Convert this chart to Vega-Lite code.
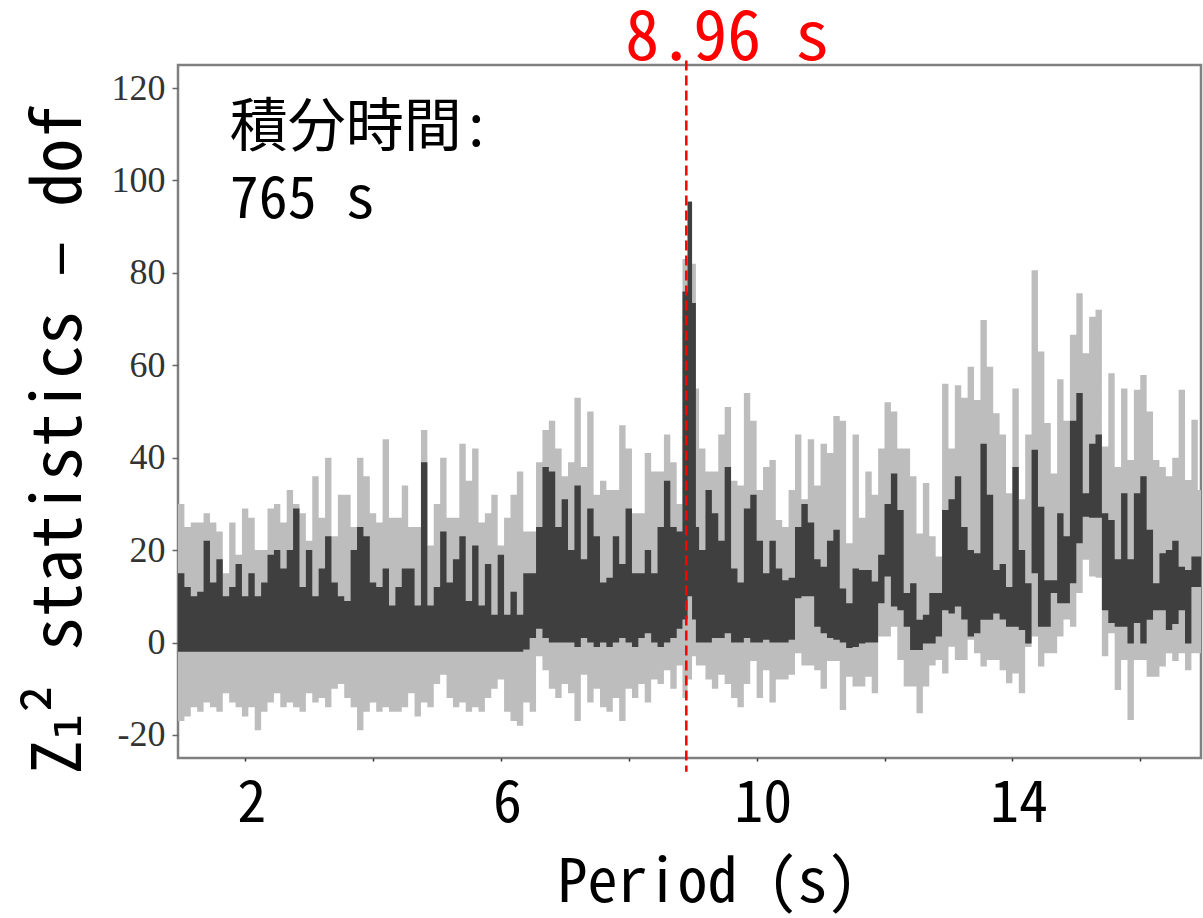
{
  "$schema": "https://vega.github.io/schema/vega-lite/v6.json",
  "width": 1023,
  "height": 693,
  "autosize": {"type": "none"},
  "padding": {"left": 178, "top": 65, "right": 2, "bottom": 160},
  "background": "white",
  "config": {
    "view": {"stroke": "#808080", "strokeWidth": 2.5},
    "axis": {"domain": false, "grid": false},
    "axisX": {
      "tickSize": 3, "tickColor": "#333333", "tickWidth": 1.5,
      "labelFont": "Noto Sans Mono CJK JP, Noto Sans CJK JP", "labelFontSize": 58, "labelColor": "#000000",
      "labelPadding": 14, "labelOffset": 6, "labelFlush": false,
      "titleFont": "Noto Sans Mono CJK JP, Noto Sans CJK JP", "titleFontSize": 60, "titleFontWeight": "normal", "titleColor": "#000000",
      "titleX": 529, "titleY": 143, "titleBaseline": "alphabetic", "titleAlign": "center"
    },
    "axisY": {
      "tickSize": 6, "tickColor": "#666666", "tickWidth": 1.5,
      "labelFont": "Liberation Serif", "labelFontSize": 36, "labelColor": "#333333", "labelPadding": 7,
      "titleFont": "Noto Sans Mono CJK JP, Noto Sans CJK JP, DejaVu Sans", "titleFontSize": 68, "titleFontWeight": "normal", "titleColor": "#000000",
      "titleAngle": 270, "titleX": -98, "titleY": 374, "titleBaseline": "alphabetic", "titleAlign": "center"
    }
  },
  "datasets": {
    "z": [
      {"p":0.95,"lt":30,"dt":15,"db":-2,"lb":-17},
      {"p":1.05,"lt":25,"dt":12,"db":-2,"lb":-16},
      {"p":1.15,"lt":26,"dt":10,"db":-2,"lb":-14},
      {"p":1.25,"lt":26,"dt":11,"db":-2,"lb":-15},
      {"p":1.35,"lt":28,"dt":22,"db":-2,"lb":-13},
      {"p":1.45,"lt":26,"dt":13,"db":-2,"lb":-14},
      {"p":1.55,"lt":24,"dt":18,"db":-2,"lb":-15},
      {"p":1.65,"lt":15,"dt":10,"db":-2,"lb":-11},
      {"p":1.75,"lt":26,"dt":12,"db":-2,"lb":-13},
      {"p":1.85,"lt":19,"dt":17,"db":-2,"lb":-14},
      {"p":1.95,"lt":29,"dt":10,"db":-2,"lb":-16},
      {"p":2.05,"lt":27,"dt":15,"db":-2,"lb":-14},
      {"p":2.15,"lt":20,"dt":10,"db":-2,"lb":-19},
      {"p":2.25,"lt":20,"dt":13,"db":-2,"lb":-15},
      {"p":2.35,"lt":29,"dt":19,"db":-2,"lb":-13},
      {"p":2.45,"lt":30,"dt":20,"db":-2,"lb":-11},
      {"p":2.55,"lt":26,"dt":16,"db":-2,"lb":-14},
      {"p":2.65,"lt":33,"dt":20,"db":-2,"lb":-13},
      {"p":2.75,"lt":30,"dt":29,"db":-2,"lb":-14},
      {"p":2.85,"lt":28,"dt":12,"db":-2,"lb":-15},
      {"p":2.95,"lt":22,"dt":20,"db":-2,"lb":-11},
      {"p":3.05,"lt":36,"dt":10,"db":-2,"lb":-13},
      {"p":3.15,"lt":27,"dt":16,"db":-2,"lb":-12},
      {"p":3.25,"lt":40,"dt":23,"db":-2,"lb":-14},
      {"p":3.35,"lt":23,"dt":13,"db":-2,"lb":-10},
      {"p":3.45,"lt":32,"dt":10,"db":-2,"lb":-9},
      {"p":3.55,"lt":32,"dt":9,"db":-2,"lb":-12},
      {"p":3.65,"lt":25,"dt":20,"db":-2,"lb":-14},
      {"p":3.75,"lt":40,"dt":25,"db":-2,"lb":-19},
      {"p":3.85,"lt":36,"dt":23,"db":-2,"lb":-15},
      {"p":3.95,"lt":28,"dt":13,"db":-2,"lb":-13},
      {"p":4.05,"lt":26,"dt":12,"db":-2,"lb":-15},
      {"p":4.15,"lt":44,"dt":16,"db":-2,"lb":-14},
      {"p":4.25,"lt":27,"dt":8,"db":-2,"lb":-15},
      {"p":4.35,"lt":27,"dt":12,"db":-2,"lb":-15},
      {"p":4.45,"lt":34,"dt":16,"db":-2,"lb":-14},
      {"p":4.55,"lt":25,"dt":16,"db":-2,"lb":-11},
      {"p":4.65,"lt":25,"dt":8,"db":-2,"lb":-16},
      {"p":4.75,"lt":46,"dt":39,"db":-2,"lb":-13},
      {"p":4.85,"lt":21,"dt":8,"db":-2,"lb":-14},
      {"p":4.95,"lt":30,"dt":12,"db":-2,"lb":-9},
      {"p":5.05,"lt":40,"dt":24,"db":-2,"lb":-7},
      {"p":5.15,"lt":27,"dt":13,"db":-2,"lb":-12},
      {"p":5.25,"lt":27,"dt":18,"db":-2,"lb":-14},
      {"p":5.35,"lt":43,"dt":23,"db":-2,"lb":-13},
      {"p":5.45,"lt":35,"dt":9,"db":-2,"lb":-15},
      {"p":5.55,"lt":42,"dt":21,"db":-2,"lb":-14},
      {"p":5.65,"lt":26,"dt":8,"db":-2,"lb":-15},
      {"p":5.75,"lt":28,"dt":17,"db":-2,"lb":-12},
      {"p":5.85,"lt":32,"dt":6,"db":-2,"lb":-10},
      {"p":5.95,"lt":21,"dt":19,"db":-2,"lb":-8},
      {"p":6.05,"lt":27,"dt":6,"db":-2,"lb":-15},
      {"p":6.15,"lt":32,"dt":11,"db":-2,"lb":-17},
      {"p":6.25,"lt":37,"dt":6,"db":-2,"lb":-18},
      {"p":6.35,"lt":24,"dt":15,"db":-1.5,"lb":-13},
      {"p":6.45,"lt":24,"dt":15,"db":1,"lb":-15},
      {"p":6.55,"lt":39,"dt":25,"db":3,"lb":-3},
      {"p":6.65,"lt":46,"dt":38,"db":1,"lb":-6},
      {"p":6.75,"lt":48,"dt":37,"db":0,"lb":-10},
      {"p":6.85,"lt":42,"dt":25,"db":0,"lb":-12},
      {"p":6.95,"lt":36,"dt":31,"db":0,"lb":-9},
      {"p":7.05,"lt":39,"dt":20,"db":0,"lb":-11},
      {"p":7.15,"lt":53,"dt":34,"db":-1,"lb":-17},
      {"p":7.25,"lt":38,"dt":18,"db":1,"lb":-7},
      {"p":7.35,"lt":50,"dt":29,"db":0,"lb":-13},
      {"p":7.45,"lt":32,"dt":23,"db":-1,"lb":-10},
      {"p":7.55,"lt":35,"dt":13,"db":0,"lb":-14},
      {"p":7.65,"lt":33,"dt":14,"db":-1,"lb":-15},
      {"p":7.75,"lt":33,"dt":23,"db":0,"lb":-12},
      {"p":7.85,"lt":47,"dt":17,"db":1,"lb":-17},
      {"p":7.95,"lt":42,"dt":29,"db":0,"lb":-10},
      {"p":8.05,"lt":28,"dt":15,"db":-1,"lb":-12},
      {"p":8.15,"lt":28,"dt":15,"db":1,"lb":-9},
      {"p":8.25,"lt":41,"dt":20,"db":2,"lb":-13},
      {"p":8.35,"lt":37,"dt":15,"db":0,"lb":-8},
      {"p":8.45,"lt":37,"dt":25,"db":-1,"lb":-9},
      {"p":8.55,"lt":45,"dt":35,"db":0,"lb":-6},
      {"p":8.65,"lt":39,"dt":25,"db":1,"lb":-10},
      {"p":8.75,"lt":30,"dt":24,"db":3,"lb":-5},
      {"p":8.84,"lt":83,"dt":76,"db":5,"lb":-12},
      {"p":8.92,"lt":95.5,"dt":95.4,"db":10,"lb":-8},
      {"p":8.99,"lt":82,"dt":73.5,"db":5,"lb":-3},
      {"p":9.05,"lt":55,"dt":25,"db":0,"lb":-5},
      {"p":9.1,"lt":42,"dt":20,"db":0,"lb":-5},
      {"p":9.2,"lt":37,"dt":33,"db":0,"lb":-8},
      {"p":9.3,"lt":37,"dt":28,"db":1,"lb":-10},
      {"p":9.4,"lt":45,"dt":22,"db":1,"lb":-7},
      {"p":9.5,"lt":51,"dt":38,"db":2,"lb":-9},
      {"p":9.6,"lt":35,"dt":16,"db":0,"lb":-12},
      {"p":9.7,"lt":34,"dt":13,"db":0,"lb":-14},
      {"p":9.8,"lt":54,"dt":29,"db":1,"lb":-9},
      {"p":9.9,"lt":48,"dt":32,"db":0,"lb":-4},
      {"p":10.0,"lt":33,"dt":22,"db":0,"lb":-12},
      {"p":10.1,"lt":38,"dt":15,"db":0.6,"lb":-6},
      {"p":10.2,"lt":39.5,"dt":22,"db":0,"lb":-13},
      {"p":10.3,"lt":26.5,"dt":16,"db":0,"lb":-8},
      {"p":10.4,"lt":25,"dt":13.5,"db":0,"lb":-8},
      {"p":10.5,"lt":33,"dt":14,"db":0.6,"lb":-7},
      {"p":10.6,"lt":45,"dt":25,"db":9.6,"lb":-2.3},
      {"p":10.7,"lt":31,"dt":30,"db":10,"lb":-5},
      {"p":10.8,"lt":44,"dt":26,"db":10,"lb":-5},
      {"p":10.9,"lt":34,"dt":18,"db":3.4,"lb":-6},
      {"p":11.0,"lt":43,"dt":16.4,"db":2,"lb":-10},
      {"p":11.1,"lt":41,"dt":22,"db":1,"lb":-4},
      {"p":11.2,"lt":49,"dt":24.4,"db":0.6,"lb":-4},
      {"p":11.3,"lt":48,"dt":11.7,"db":0,"lb":-14.6},
      {"p":11.4,"lt":21.5,"dt":8.5,"db":-1.2,"lb":-7.4},
      {"p":11.5,"lt":45,"dt":16,"db":-1,"lb":-9.5},
      {"p":11.6,"lt":27,"dt":15.7,"db":-0.2,"lb":-9.5},
      {"p":11.7,"lt":37,"dt":15.7,"db":0,"lb":-7.4},
      {"p":11.8,"lt":32,"dt":13.2,"db":0,"lb":-11},
      {"p":11.9,"lt":42,"dt":19,"db":8.5,"lb":1.3},
      {"p":12.0,"lt":52,"dt":30,"db":14.3,"lb":1.3},
      {"p":12.1,"lt":50,"dt":36.6,"db":7.8,"lb":3.4},
      {"p":12.2,"lt":42,"dt":28.7,"db":7,"lb":-3.8},
      {"p":12.3,"lt":42,"dt":10.7,"db":3.4,"lb":-9.5},
      {"p":12.4,"lt":36,"dt":12.8,"db":-1.6,"lb":-9.5},
      {"p":12.5,"lt":23.6,"dt":4.9,"db":-1.6,"lb":-15.3},
      {"p":12.6,"lt":34.5,"dt":6,"db":-0.2,"lb":-9.5},
      {"p":12.7,"lt":23,"dt":10.7,"db":-0.2,"lb":-5},
      {"p":12.8,"lt":18.6,"dt":10.7,"db":1.3,"lb":-3.8},
      {"p":12.9,"lt":56,"dt":28.7,"db":7,"lb":-6.7},
      {"p":13.0,"lt":42,"dt":31,"db":6.3,"lb":-0.9},
      {"p":13.1,"lt":55.7,"dt":36,"db":7.8,"lb":-3.8},
      {"p":13.2,"lt":53,"dt":25,"db":5,"lb":-3.8},
      {"p":13.3,"lt":59.7,"dt":20,"db":1.3,"lb":0.6},
      {"p":13.4,"lt":52.5,"dt":19.3,"db":2,"lb":-2.3},
      {"p":13.5,"lt":69.8,"dt":43,"db":4.9,"lb":-5.2},
      {"p":13.6,"lt":59.7,"dt":32,"db":4.9,"lb":-3.8},
      {"p":13.7,"lt":49.6,"dt":15.7,"db":6.3,"lb":-3.8},
      {"p":13.8,"lt":45,"dt":17,"db":5,"lb":-6},
      {"p":13.9,"lt":32.3,"dt":12,"db":3.4,"lb":-8.8},
      {"p":14.0,"lt":55,"dt":38,"db":3.4,"lb":-6.7},
      {"p":14.1,"lt":31,"dt":20,"db":2.7,"lb":-11},
      {"p":14.2,"lt":45,"dt":12.8,"db":-0.2,"lb":-1},
      {"p":14.3,"lt":80.6,"dt":41.7,"db":15,"lb":1.3},
      {"p":14.4,"lt":63,"dt":29.4,"db":3.4,"lb":-5.2},
      {"p":14.5,"lt":47.5,"dt":13.5,"db":3.4,"lb":-2.3},
      {"p":14.6,"lt":36.6,"dt":13.5,"db":10.7,"lb":-2.3},
      {"p":14.7,"lt":57,"dt":28,"db":8.5,"lb":1.3},
      {"p":14.8,"lt":48,"dt":23,"db":8.5,"lb":5},
      {"p":14.9,"lt":66.6,"dt":48,"db":12.8,"lb":3.4},
      {"p":15.0,"lt":75.6,"dt":54,"db":21.5,"lb":10.7},
      {"p":15.1,"lt":62.6,"dt":32.3,"db":27.2,"lb":17.9},
      {"p":15.2,"lt":70.5,"dt":43,"db":27,"lb":14.3},
      {"p":15.3,"lt":72,"dt":45,"db":27,"lb":14},
      {"p":15.4,"lt":42.4,"dt":28,"db":7,"lb":-3},
      {"p":15.5,"lt":58.3,"dt":26.5,"db":4.2,"lb":2},
      {"p":15.6,"lt":38,"dt":18,"db":3.4,"lb":-10.3},
      {"p":15.7,"lt":55,"dt":32.3,"db":3.4,"lb":-3.8},
      {"p":15.8,"lt":39.5,"dt":18,"db":-0.2,"lb":-16.8},
      {"p":15.9,"lt":54.7,"dt":32.3,"db":4.2,"lb":-3.8},
      {"p":16.0,"lt":57.9,"dt":36,"db":-0.2,"lb":-3.8},
      {"p":16.1,"lt":50,"dt":24.4,"db":4.9,"lb":-7.4},
      {"p":16.2,"lt":39.5,"dt":12.8,"db":7,"lb":-7.4},
      {"p":16.3,"lt":38,"dt":19.3,"db":7,"lb":-5.2},
      {"p":16.4,"lt":36,"dt":20,"db":2.7,"lb":-2.3},
      {"p":16.5,"lt":40,"dt":22,"db":4,"lb":-4},
      {"p":16.6,"lt":54.7,"dt":16.4,"db":7,"lb":-2.3},
      {"p":16.7,"lt":35.2,"dt":15.7,"db":-0.2,"lb":-6},
      {"p":16.8,"lt":48.2,"dt":18.6,"db":12,"lb":-2.3},
      {"p":16.9,"lt":33,"dt":18.6,"db":12,"lb":-2.3},
      {"p":16.95,"lt":33,"dt":18.6,"db":12,"lb":-2.3}
    ],
    "peak": [{"p": 8.9, "label": "8.96 s"}],
    "note": [{"p": 1.76, "text": "積分時間:\n765 s"}]
  },
  "layer": [
    {
      "data": {"name": "z"},
      "mark": {"type": "area", "interpolate": "step-after", "color": "#bdbdbd", "clip": true},
      "encoding": {
        "x": {"field": "p", "type": "quantitative", "title": "Period (s)",
              "scale": {"domain": [0.95, 16.95], "nice": false, "zero": false},
              "axis": {"values": [2, 4, 6, 8, 10, 12, 14, 16],
                       "labelExpr": "(datum.value == 2 || datum.value == 6 || datum.value == 10 || datum.value == 14) ? ('' + datum.value) : ''"}},
        "y": {"field": "lt", "type": "quantitative", "title": "Z₁² statistics – dof",
              "scale": {"domain": [-25, 125], "nice": false, "zero": false},
              "axis": {"values": [-20, 0, 20, 40, 60, 80, 100, 120],
                       "labelExpr": "datum.value < 0 ? ('-' + abs(datum.value)) : ('' + datum.value)"}},
        "y2": {"field": "lb"}
      }
    },
    {
      "data": {"name": "z"},
      "mark": {"type": "area", "interpolate": "step-after", "color": "#3f3f3f", "clip": true},
      "encoding": {
        "x": {"field": "p", "type": "quantitative", "title": "Period (s)"},
        "y": {"field": "dt", "type": "quantitative", "title": "Z₁² statistics – dof"},
        "y2": {"field": "db"}
      }
    },
    {
      "data": {"name": "peak"},
      "mark": {"type": "rule", "color": "#ff0000", "strokeWidth": 2.5, "strokeDash": [10, 5]},
      "encoding": {
        "x": {"field": "p", "type": "quantitative", "title": "Period (s)"},
        "y": {"datum": 126, "type": "quantitative", "title": "Z₁² statistics – dof"},
        "y2": {"datum": -28}
      }
    },
    {
      "data": {"name": "peak"},
      "mark": {"type": "text", "color": "#ff0000", "font": "Noto Sans Mono CJK JP, Noto Sans CJK JP", "fontSize": 68, "align": "center", "baseline": "alphabetic", "dx": 41, "dy": -5},
      "encoding": {
        "x": {"field": "p", "type": "quantitative", "title": "Period (s)"},
        "y": {"datum": 125, "type": "quantitative", "title": "Z₁² statistics – dof"},
        "text": {"field": "label"}
      }
    },
    {
      "data": {"name": "note"},
      "mark": {"type": "text", "color": "#000000", "font": "Noto Sans Mono CJK JP, Noto Sans CJK JP", "fontSize": 58, "align": "left", "baseline": "alphabetic", "lineBreak": "\n", "lineHeight": 72},
      "encoding": {
        "x": {"field": "p", "type": "quantitative", "title": "Period (s)"},
        "y": {"datum": 107.5, "type": "quantitative", "title": "Z₁² statistics – dof"},
        "text": {"field": "text"}
      }
    }
  ]
}
